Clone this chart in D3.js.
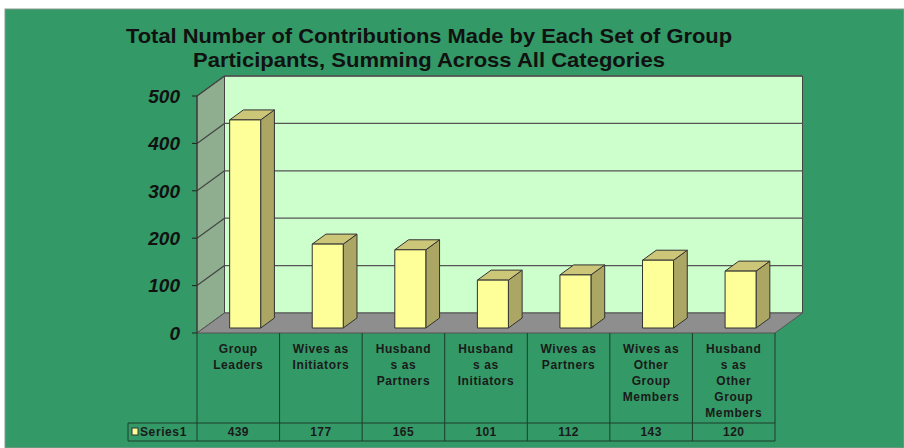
<!DOCTYPE html>
<html>
<head>
<meta charset="utf-8">
<script src="https://cdn.jsdelivr.net/npm/d3@7"></script>
<style>
  html, body { margin: 0; padding: 0; background: #fff; }
  svg { display: block; }
  text { font-family: "Liberation Sans", Arial, sans-serif; }
</style>
</head>
<body>
<svg id="chart" width="904" height="448"></svg>
<script>
// ---- data ----
const titleLines = ["Total Number of Contributions Made by Each Set of Group",
                    "Participants, Summing Across All Categories"];
const categories = ["Group\nLeaders", "Wives as\nInitiators", "Husband\ns as\nPartners",
                    "Husband\ns as\nInitiators", "Wives as\nPartners",
                    "Wives as\nOther\nGroup\nMembers", "Husband\ns as\nOther\nGroup\nMembers"];
const values = [439, 177, 165, 101, 112, 143, 120];
const seriesName = "Series1";
const yTicks = [0, 100, 200, 300, 400, 500];

// ---- layout ----
const svg = d3.select("#chart");
const W = 904, H = 448;
const frontL = 197, frontR = 775, front0 = 333, front500 = 96;
const DX = 27.5, DY = -20;               // depth of the 3D floor
const barZ0 = 0.25, barZ1 = 0.75;        // bar front/back depth fraction
const barW = 31;

const x = d3.scaleBand().domain(categories).range([frontL, frontR]).padding(0);
const y = d3.scaleLinear().domain([0, 500]).range([front0, front500]);

// background
svg.append("rect").attr("x", 0).attr("y", 0).attr("width", W).attr("height", H).attr("fill", "#fff");
svg.append("rect").attr("x", 5).attr("y", 9).attr("width", W - 5).attr("height", H - 9)
  .attr("fill", "#339966").attr("stroke", "#8a9a90").attr("stroke-width", 1);

// title
titleLines.forEach((t, i) => {
  svg.append("text").attr("x", 429).attr("y", 43 + i * 24)
    .attr("text-anchor", "middle").attr("font-size", 20.5).attr("font-weight", "bold")
    .attr("fill", "#111")
    .attr("textLength", i === 0 ? 606 : 472).attr("lengthAdjust", "spacingAndGlyphs")
    .text(t);
});

const pt = (px, py) => px + "," + py;

// back wall
svg.append("polygon")
  .attr("points", [pt(frontL + DX, y(0) + DY), pt(frontR + DX, y(0) + DY),
                   pt(frontR + DX, y(500) + DY), pt(frontL + DX, y(500) + DY)].join(" "))
  .attr("fill", "#ccffcc").attr("stroke", "#444").attr("stroke-width", 1);
// side wall
svg.append("polygon")
  .attr("points", [pt(frontL, y(0)), pt(frontL + DX, y(0) + DY),
                   pt(frontL + DX, y(500) + DY), pt(frontL, y(500))].join(" "))
  .attr("fill", "#8fae8f").attr("stroke", "#444").attr("stroke-width", 1);

// gridlines
const gl = svg.append("g");
yTicks.filter(v => v > 0).forEach(v => {
  gl.append("line").attr("x1", frontL + DX).attr("x2", frontR + DX)
    .attr("y1", y(v) + DY).attr("y2", y(v) + DY)
    .attr("stroke", "#555").attr("stroke-width", 1.3);
  gl.append("line").attr("x1", frontL).attr("x2", frontL + DX)
    .attr("y1", y(v)).attr("y2", y(v) + DY)
    .attr("stroke", "#444").attr("stroke-width", 1.2);
});

// floor
svg.append("polygon")
  .attr("points", [pt(frontL, y(0)), pt(frontR, y(0)),
                   pt(frontR + DX, y(0) + DY), pt(frontL + DX, y(0) + DY)].join(" "))
  .attr("fill", "#8e8e8e").attr("stroke", "#555").attr("stroke-width", 1);

// y axis: ticks and labels
yTicks.forEach(v => {
  svg.append("line").attr("x1", frontL - 5).attr("x2", frontL)
    .attr("y1", y(v)).attr("y2", y(v)).attr("stroke", "#222").attr("stroke-width", 1);
  svg.append("text").attr("x", 180).attr("y", y(v)).attr("dy", "0.36em")
    .attr("text-anchor", "end").attr("font-size", 19).attr("font-weight", "bold")
    .attr("font-style", "italic").attr("fill", "#111").text(v);
});
svg.append("line").attr("x1", frontL).attr("x2", frontL).attr("y1", y(0)).attr("y2", y(500))
  .attr("stroke", "#333").attr("stroke-width", 1);

// bars
const bars = svg.append("g");
categories.forEach((c, i) => {
  const v = values[i];
  const cx = x(c) + x.bandwidth() / 2 + DX * barZ0;
  const x0 = cx - barW / 2, x1 = cx + barW / 2;
  const yb = y(0) + DY * barZ0, yt = y(v) + DY * barZ0;
  const ddx = DX * (barZ1 - barZ0), ddy = DY * (barZ1 - barZ0);
  const g = bars.append("g").attr("stroke", "#333").attr("stroke-width", 1).attr("stroke-linejoin", "round");
  // side
  g.append("polygon").attr("points", [pt(x1, yb), pt(x1 + ddx, yb + ddy), pt(x1 + ddx, yt + ddy), pt(x1, yt)].join(" "))
    .attr("fill", "#aba664");
  // top
  g.append("polygon").attr("points", [pt(x0, yt), pt(x1, yt), pt(x1 + ddx, yt + ddy), pt(x0 + ddx, yt + ddy)].join(" "))
    .attr("fill", "#cbc678");
  // front
  g.append("rect").attr("x", x0).attr("y", yt).attr("width", barW).attr("height", yb - yt)
    .attr("fill", "#ffff99");
});

// data table
const tbl = svg.append("g");
const lineCol = "#1d3d2a";
const rowTop = 423, rowBot = 441, tableLeft = 128;
x.domain().forEach((c, i) => {
  tbl.append("line").attr("x1", x(c)).attr("x2", x(c)).attr("y1", y(0)).attr("y2", rowBot)
    .attr("stroke", lineCol).attr("stroke-width", 1);
});
tbl.append("line").attr("x1", frontR).attr("x2", frontR).attr("y1", y(0)).attr("y2", rowBot)
  .attr("stroke", lineCol).attr("stroke-width", 1);
tbl.append("line").attr("x1", tableLeft).attr("x2", tableLeft).attr("y1", rowTop).attr("y2", rowBot)
  .attr("stroke", lineCol).attr("stroke-width", 1);
[rowTop, rowBot].forEach(yy => tbl.append("line").attr("x1", tableLeft).attr("x2", frontR)
  .attr("y1", yy).attr("y2", yy).attr("stroke", lineCol).attr("stroke-width", 1));

categories.forEach((c, i) => {
  const lines = c.split("\n");
  const cx = x(c) + x.bandwidth() / 2;
  lines.forEach((ln, j) => {
    tbl.append("text").attr("x", cx).attr("y", 353 + j * 16)
      .attr("text-anchor", "middle").attr("font-size", 12).attr("font-weight", "bold")
      .attr("letter-spacing", 0.6).attr("fill", "#1a1a1a").text(ln);
  });
  tbl.append("text").attr("x", cx).attr("y", 436)
    .attr("text-anchor", "middle").attr("font-size", 12).attr("font-weight", "bold")
    .attr("letter-spacing", 0.4).attr("fill", "#1a1a1a").text(values[i]);
});
// legend key + series name
tbl.append("rect").attr("x", 132).attr("y", 428).attr("width", 6).attr("height", 7)
  .attr("fill", "#ffff99").attr("stroke", "#333").attr("stroke-width", 1);
tbl.append("text").attr("x", 140).attr("y", 436).attr("font-size", 12).attr("font-weight", "bold")
  .attr("letter-spacing", 0.6).attr("fill", "#1a1a1a").text(seriesName);
</script>
</body>
</html>
